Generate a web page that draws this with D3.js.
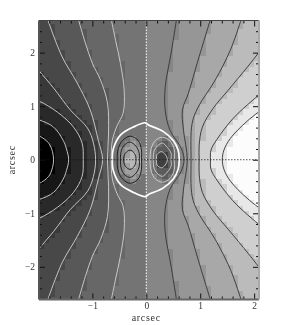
<!DOCTYPE html>
<html>
<head>
<meta charset="utf-8">
<script src="https://cdn.jsdelivr.net/npm/d3@7"></script>
<style>
  html, body { margin: 0; padding: 0; background: #fff; }
  svg { display: block; filter: blur(0.45px); }
  text { font-family: "Liberation Serif", serif; fill: #333; }
</style>
</head>
<body>
<div id="myPlot"></div>
<script>
// contours, in arcsec, upper half only (the map is mirrored about y = 0)
var lineF = [[-2.1, 0.46], [-1.98, 0.44], [-1.81, 0.31], [-1.74, 0.15], [-1.72, 0]];
var lineE = [[-2.1, 0.76], [-1.98, 0.74], [-1.72, 0.61], [-1.54, 0.36], [-1.48, 0.2], [-1.44, 0]];
var lineD = [[-2.1, 1.12], [-1.98, 1.09], [-1.65, 0.89], [-1.35, 0.61], [-1.19, 0.31], [-1.17, 0]];
var lineG = [[-2.1, 1.8], [-1.98, 1.65], [-1.72, 1.34], [-1.41, 0.93], [-1.09, 0.59], [-0.98, 0.31], [-0.94, 0]];
var lineA = [[-1.83, 2.62], [-1.56, 1.92], [-1.28, 1.43], [-1.04, 0.93], [-0.89, 0.36], [-0.81, 0]];
var lineB = [[-1.26, 2.62], [-1.13, 2.18], [-1.0, 1.8], [-0.85, 1.49], [-0.72, 1.06], [-0.7, 0.5], [-0.72, 0]];
var lineC = [[-0.65, 2.62], [-0.57, 2.23], [-0.48, 1.8], [-0.41, 1.3], [-0.43, 0.87], [-0.54, 0.64], [-0.63, 0.36], [-0.65, 0]];
var lineZero = [[0, 2.62], [0, 0]];

var lineR1 = [[0.56, 2.62], [0.46, 1.99], [0.35, 1.35], [0.35, 0.93], [0.44, 0.55], [0.65, 0.21], [0.7, 0]];
var lineR2 = [[1.19, 2.62], [0.96, 1.86], [0.78, 1.24], [0.67, 0.93], [0.69, 0.55], [0.76, 0]];
var lineR3 = [[1.76, 2.62], [1.56, 2.05], [1.28, 1.49], [0.96, 0.98], [0.85, 0.68], [0.83, 0]];
var lineR4 = [[2.2, 2.15], [1.89, 1.75], [1.52, 1.3], [1.24, 0.96], [1.04, 0.61], [0.98, 0.27], [0.98, 0]];
var lineR5 = [[2.2, 1.3], [1.88, 1.03], [1.6, 0.76], [1.31, 0.38], [1.2, 0.18], [1.19, 0]];
var lineR6 = [[2.2, 0.98], [1.87, 0.72], [1.56, 0.4], [1.44, 0.18], [1.41, 0]];

var thickLine = [[-0.63, 0], [-0.61, 0.21], [-0.48, 0.46], [-0.24, 0.61], [-0.02, 0.69], [0.04, 0.65], [0.31, 0.53], [0.5, 0.36], [0.59, 0.18], [0.61, 0]];

var lobeLO = [[-0.54, 0], [-0.52, 0.21], [-0.44, 0.36], [-0.3, 0.44], [-0.15, 0.36], [-0.09, 0.18], [-0.09, 0]];
var lobeLM = [[-0.48, 0], [-0.46, 0.18], [-0.39, 0.29], [-0.3, 0.33], [-0.19, 0.25], [-0.13, 0.12], [-0.13, 0]];
var lobeLI = [[-0.42, 0], [-0.39, 0.12], [-0.3, 0.18], [-0.22, 0.12], [-0.19, 0]];
var lobeRO = [[0.07, 0], [0.09, 0.21], [0.17, 0.36], [0.3, 0.42], [0.44, 0.35], [0.52, 0.18], [0.52, 0]];
var lobeRM = [[0.13, 0], [0.15, 0.18], [0.22, 0.27], [0.3, 0.31], [0.39, 0.23], [0.46, 0.12], [0.46, 0]];
var lobeRI = [[0.19, 0], [0.2, 0.1], [0.28, 0.15], [0.35, 0.1], [0.39, 0]];

var leftLines = [lineZero, lineC, lineB, lineA, lineG, lineD, lineE, lineF];
var leftGrays = ["#747474", "#676767", "#585858", "#484848", "#393939", "#292929", "#171717", "#000000"];
var rightLines = [lineR1, lineR2, lineR3, lineR4, lineR5, lineR6];
var rightGrays = ["#969696", "#a8a8a8", "#bbbbbb", "#cfcfcf", "#e8e8e8", "#fcfcfc"];
var lobes = [lobeLO, lobeLM, lobeLI, lobeRO, lobeRM, lobeRI];
var lobeGrays = ["#8b8b8b", "#a0a0a0", "#b8b8b8", "#707070", "#5c5c5c", "#404040"];
var baseGray = "#868686";

var xTicks = [-1, 0, 1, 2];
var xTickLabels = ["\u22121", "0", "1", "2"];
var yTicks = [-2, -1, 0, 1, 2];
var yTickLabels = ["\u22122", "\u22121", "0", "1", "2"];
var xMinor = [-1.8, -1.6, -1.4, -1.2, -0.8, -0.6, -0.4, -0.2, 0.2, 0.4, 0.6, 0.8, 1.2, 1.4, 1.6, 1.8];
var yMinor = [-2.4, -2.2, -1.8, -1.6, -1.4, -1.2, -0.8, -0.6, -0.4, -0.2, 0.2, 0.4, 0.6, 0.8, 1.2, 1.4, 1.6, 1.8, 2.2, 2.4];

// set the dimensions of the graph
var W = 295, H = 325;
var left = 39, right = 259, top_ = 20.5, bottom = 299.5;

var svg = d3.select("#myPlot")
  .append("svg")
  .attr("width", W)
  .attr("height", H);

var x = d3.scaleLinear().domain([-1.99, 2.09]).range([left, right]);
var y = d3.scaleLinear().domain([2.6, -2.61]).range([top_, bottom]);

// upper half plus its reflection, without repeating the points that sit on y = 0
function mirror(pts) {
  var lower = pts.slice().reverse()
    .filter(function (p) { return p[1] !== 0; })
    .map(function (p) { return [p[0], -p[1]]; });
  return pts.concat(lower);
}

// region for a line: everything on one side of it, closed far outside of the frame
function sideRegion(pts, farX) {
  var m = mirror(pts);
  return m.concat([[farX, m[m.length - 1][1]], [farX, m[0][1]]]);
}

var regions = [];
leftLines.forEach(function (l, i) { regions.push({ poly: sideRegion(l, -3), gray: leftGrays[i] }); });
rightLines.forEach(function (l, i) { regions.push({ poly: sideRegion(l, 3), gray: rightGrays[i] }); });
lobes.forEach(function (l, i) { regions.push({ poly: mirror(l), gray: lobeGrays[i] }); });

svg.append("clipPath").attr("id", "frame")
  .append("rect")
  .attr("x", left).attr("y", top_)
  .attr("width", right - left).attr("height", bottom - top_);

var plot = svg.append("g").attr("clip-path", "url(#frame)");

// the gray map is a coarse raster: one block per 0.1 arcsec
var cols = d3.range(-20, 21).map(function (k) { return k / 10; });
var rows = d3.range(-27, 28).map(function (k) { return k / 10; });
var cells = [];
cols.forEach(function (cx) {
  rows.forEach(function (cy) {
    var gray = baseGray;
    regions.forEach(function (r) {
      if (d3.polygonContains(r.poly, [cx, cy])) gray = r.gray;
    });
    cells.push({ cx: cx, cy: cy, gray: gray });
  });
});

plot.selectAll("rect.cell")
  .data(cells)
  .enter().append("rect")
  .attr("class", "cell")
  .attr("shape-rendering", "crispEdges")
  .attr("x", function (d) { return x(d.cx); })
  .attr("y", function (d) { return y(d.cy + 0.05); })
  .attr("width", x(0.1) - x(0) + 0.5)
  .attr("height", y(0) - y(0.1) + 0.5)
  .attr("fill", function (d) { return d.gray; });

var openLine = d3.line()
  .x(function (d) { return x(d[0]); })
  .y(function (d) { return y(d[1]); })
  .curve(d3.curveCatmullRom);
var closedLine = d3.line()
  .x(function (d) { return x(d[0]); })
  .y(function (d) { return y(d[1]); })
  .curve(d3.curveCatmullRomClosed);

function drawLine(gen, pts, color, w) {
  plot.append("path")
    .attr("d", gen(mirror(pts)))
    .attr("fill", "none")
    .attr("stroke", color)
    .attr("stroke-width", w);
}

[lineF, lineE, lineD, lineG, lineA, lineB, lineC].forEach(function (l) { drawLine(openLine, l, "#d4d4d4", 0.9); });
[lineR1, lineR2, lineR3, lineR4, lineR5, lineR6].forEach(function (l) { drawLine(openLine, l, "#333333", 0.9); });
[lobeLO, lobeLM, lobeLI].forEach(function (l) { drawLine(closedLine, l, "#151515", 0.9); });
[lobeRO, lobeRM, lobeRI].forEach(function (l) { drawLine(closedLine, l, "#d0d0d0", 0.9); });
drawLine(closedLine, thickLine, "#ffffff", 1.7);

// dotted zero lines
plot.append("line")
  .attr("x1", x(0)).attr("x2", x(0))
  .attr("y1", top_).attr("y2", bottom)
  .attr("stroke", "#ffffff").attr("stroke-width", 1)
  .attr("stroke-dasharray", "1.5,1.5");
plot.append("line")
  .attr("x1", left).attr("x2", right)
  .attr("y1", y(0)).attr("y2", y(0))
  .attr("stroke", "#111111").attr("stroke-width", 0.7)
  .attr("stroke-dasharray", "1.5,1.5");

// axes, ticks point inward
function styleAxis(g) {
  g.select(".domain").remove();
  g.selectAll("line").attr("stroke", "#111");
  return g;
}

function addAxis(axis, tx, ty) {
  return svg.append("g")
    .attr("transform", "translate(" + tx + "," + ty + ")")
    .call(axis)
    .call(styleAxis);
}

var none = function () { return ""; };

var xAxisMain = d3.axisBottom(x).tickValues(xTicks).tickSize(-6).tickPadding(3)
  .tickFormat(function (d, i) { return xTickLabels[i]; });
var yAxisMain = d3.axisLeft(y).tickValues(yTicks).tickSize(-6).tickPadding(4)
  .tickFormat(function (d, i) { return yTickLabels[i]; });

addAxis(xAxisMain, 0, bottom);
addAxis(yAxisMain, left, 0);
addAxis(d3.axisBottom(x).tickValues(xMinor).tickSize(-3).tickFormat(none), 0, bottom);
addAxis(d3.axisLeft(y).tickValues(yMinor).tickSize(-3).tickFormat(none), left, 0);
addAxis(d3.axisTop(x).tickValues(xTicks).tickSize(-6).tickFormat(none), 0, top_);
addAxis(d3.axisTop(x).tickValues(xMinor).tickSize(-3).tickFormat(none), 0, top_);
addAxis(d3.axisRight(y).tickValues(yTicks).tickSize(-6).tickFormat(none), right, 0);
addAxis(d3.axisRight(y).tickValues(yMinor).tickSize(-3).tickFormat(none), right, 0);

svg.selectAll(".tick text").attr("font-size", 9.5).attr("fill", "#333");

// frame
svg.append("line").attr("x1", left).attr("x2", left).attr("y1", top_).attr("y2", bottom)
  .attr("stroke", "#555").attr("stroke-width", 2);
svg.append("line").attr("x1", left).attr("x2", right).attr("y1", bottom).attr("y2", bottom)
  .attr("stroke", "#666").attr("stroke-width", 2);
svg.append("line").attr("x1", left).attr("x2", right).attr("y1", top_).attr("y2", top_)
  .attr("stroke", "#444").attr("stroke-width", 1.2);
svg.append("line").attr("x1", right).attr("x2", right).attr("y1", top_).attr("y2", bottom)
  .attr("stroke", "#aaa").attr("stroke-width", 2);

// axis titles
svg.append("text")
  .attr("x", x(0)).attr("y", 320.5)
  .attr("text-anchor", "middle")
  .attr("font-size", 10)
  .attr("letter-spacing", 0.7)
  .text("arcsec");
svg.append("text")
  .attr("transform", "translate(15," + y(0) + ") rotate(-90)")
  .attr("text-anchor", "middle")
  .attr("font-size", 10)
  .attr("letter-spacing", 0.7)
  .text("arcsec");
</script>
</body>
</html>
